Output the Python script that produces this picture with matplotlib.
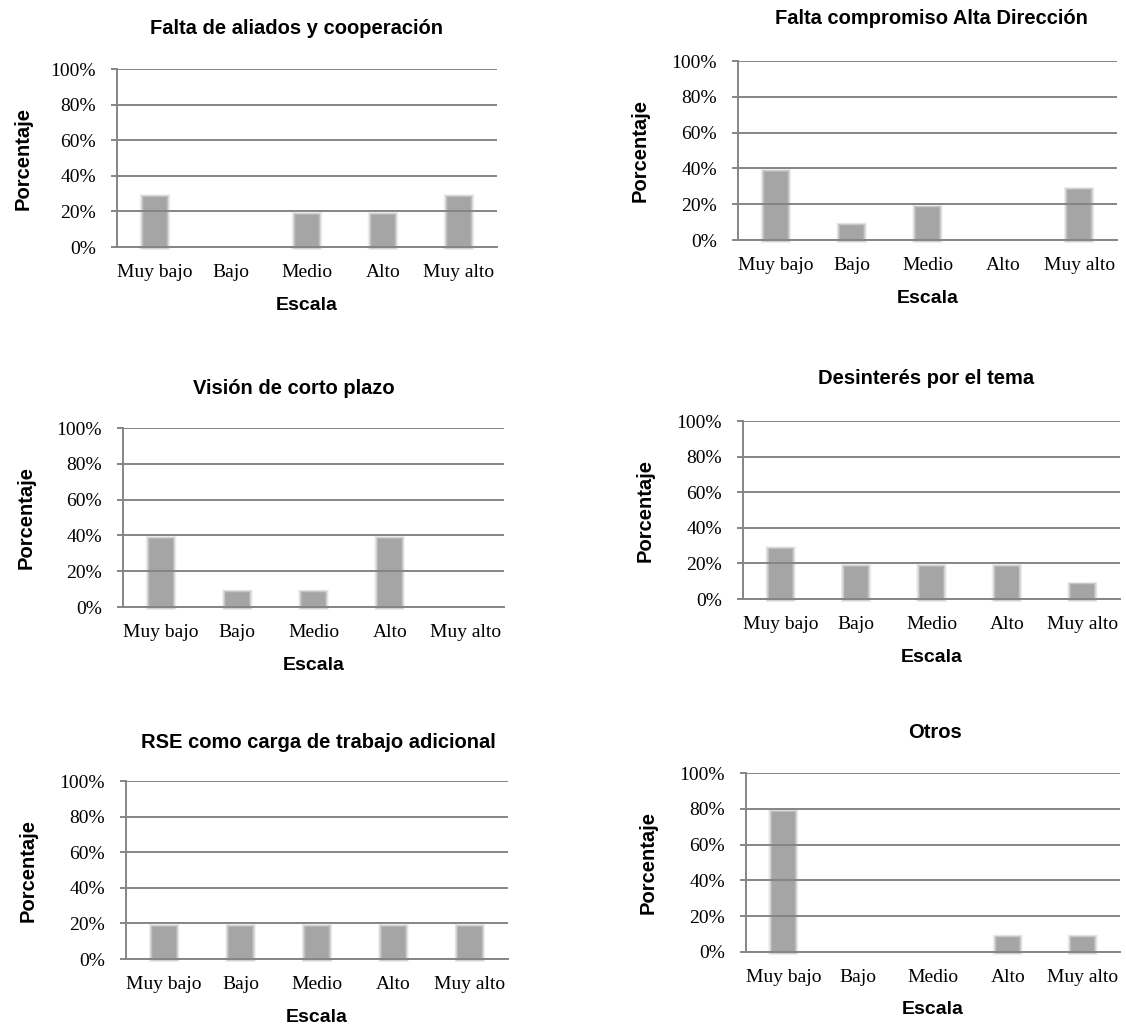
import numpy as np
import matplotlib
matplotlib.use("Agg")
import matplotlib.pyplot as plt
from matplotlib.ticker import FuncFormatter

W, H = 1126, 1028

categorias = ["Muy bajo", "Bajo", "Medio", "Alto", "Muy alto"]

titulos = [
    "Falta de aliados y cooperación",
    "Falta compromiso Alta Dirección",
    "Visión de corto plazo",
    "Desinterés por el tema",
    "RSE como carga de trabajo adicional",
    "Otros",
]

# porcentajes (0-1)
aliados = [0.28, 0.0, 0.18, 0.18, 0.28]
compromiso = [0.38, 0.08, 0.18, 0.0, 0.28]
corto_plazo = [0.38, 0.08, 0.08, 0.38, 0.0]
desinteres = [0.28, 0.18, 0.18, 0.18, 0.08]
carga = [0.18, 0.18, 0.18, 0.18, 0.18]
otros = [0.78, 0.0, 0.0, 0.08, 0.08]

series = [aliados, compromiso, corto_plazo, desinteres, carga, otros]

# (izq, arriba, der, abajo) del area de trazado en pixeles, titulo (x, y), x del ylabel
paneles = [
    ((117, 69, 497, 247), (296, 28), 23),
    ((738, 61, 1117, 240), (931, 18), 640),
    ((123, 428, 504, 607), (294, 388), 26),
    ((743, 421, 1120, 599), (926, 378), 645),
    ((126, 781, 508, 959), (318, 742), 28),
    ((746, 773, 1120, 952), (935, 733), 648),
]

gris = "#858585"
barra = "#a5a5a5"
serif = "Liberation Serif"
sans = "Liberation Sans"

# capas del borde difuso: cobertura acumulada que sube suave de fuera a dentro
n = 10
cob = (np.arange(1, n + 1) / (n + 1)) ** 1.2
alfas = [cob[0]] + [1 - (1 - cob[i]) / (1 - cob[i - 1]) for i in range(1, n)]

fig = plt.figure(figsize=(W / 100, H / 100), dpi=100)
fig.patch.set_facecolor("white")

for titulo, valores, (caja, tpos, ylx) in zip(titulos, series, paneles):
    l, t, r, b = caja
    ax = fig.add_axes([l / W, 1 - b / H, (r - l) / W, (b - t) / H])
    x = np.arange(len(categorias))
    v = np.array(valores)
    con = v > 0

    ex, ey = 0.055, 0.018
    nucleo = 0.30
    for i in range(n):
        f = 1 - i / n
        ax.bar(x[con], v[con] + 2 * ey * f, bottom=-ey * f, width=nucleo + 2 * ex * f,
               color=barra, alpha=alfas[i], linewidth=0, zorder=1, clip_on=False)
    ax.bar(x[con], v[con], width=nucleo, color=barra, linewidth=0, zorder=2)

    ax.set_xlim(-0.5, len(categorias) - 0.5)
    ax.set_ylim(0, 1)
    ax.set_yticks(np.arange(0, 1.01, 0.2))
    ax.yaxis.set_major_formatter(FuncFormatter(lambda val, p: "%d%%" % round(val * 100)))
    ax.set_xticks(x)
    ax.set_xticklabels(categorias)

    ax.grid(axis="y", color=gris, linewidth=1.4, zorder=3)
    ax.set_axisbelow(False)
    for s in ["top", "right"]:
        ax.spines[s].set_visible(False)
    for s in ["left", "bottom"]:
        ax.spines[s].set_color(gris)
        ax.spines[s].set_linewidth(1.4)
        ax.spines[s].set_zorder(4)

    ax.tick_params(axis="y", length=4, width=1.4, color=gris, pad=11, labelsize=14)
    ax.tick_params(axis="x", length=0, pad=12, labelsize=14)
    for lab in ax.get_xticklabels() + ax.get_yticklabels():
        lab.set_fontfamily(serif)

    h = b - t
    wd = r - l
    ax.set_xlabel("Escala", fontsize=14, fontweight="bold", fontfamily=sans, va="center")
    ax.xaxis.set_label_coords(0.5, -(305 - 247) / h)
    ax.set_ylabel("Porcentaje", fontsize=14.5, fontweight="bold", fontfamily=sans, va="center")
    ax.yaxis.set_label_coords(-(l - ylx) / wd, 0.5)

    fig.text(tpos[0] / W, 1 - tpos[1] / H, titulo, ha="center", va="center",
             fontsize=14.5, fontweight="bold", fontfamily=sans)

fig.savefig("out.png", dpi=100, facecolor="white")
